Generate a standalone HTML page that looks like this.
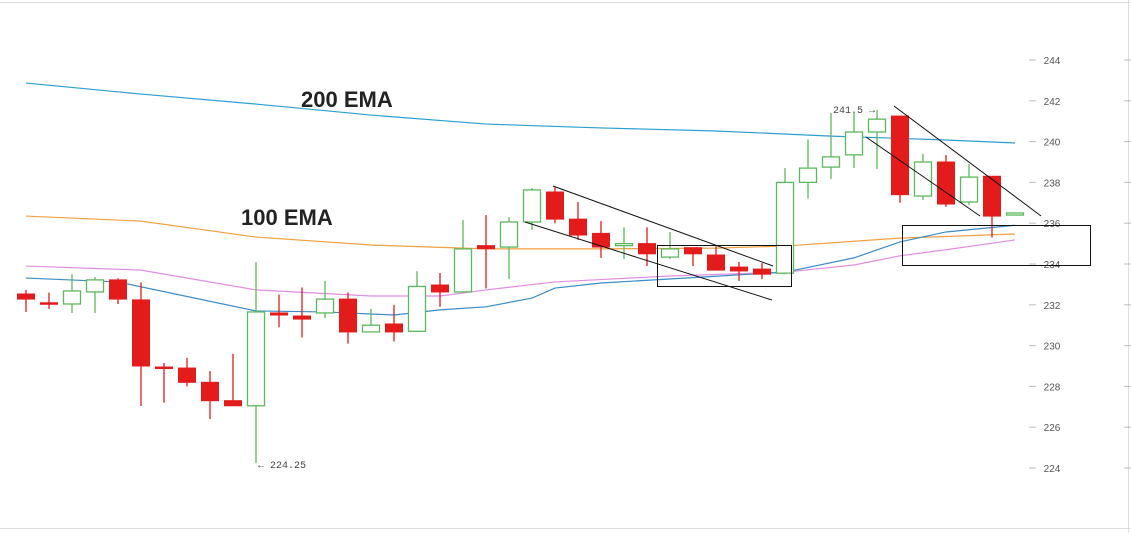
<!DOCTYPE html>
<html><head><meta charset="utf-8">
<style>
html,body{margin:0;padding:0;background:#fff;}
svg{display:block;font-family:"Liberation Sans",sans-serif;}
</style></head>
<body>
<svg id="chart" width="1131" height="533" viewBox="0 0 1131 533" xmlns="http://www.w3.org/2000/svg">
  <rect x="0" y="0" width="1131" height="533" fill="#fff"/>
  <line x1="0" y1="2.5" x2="1131" y2="2.5" stroke="#ddd"/>
  <line x1="0" y1="528.5" x2="1131" y2="528.5" stroke="#ddd"/>
  <line x1="1128.5" y1="0" x2="1128.5" y2="533" stroke="#ddd"/>
  <g id="axis"></g>
  <g id="emas"></g>
  <g id="candles"></g>
  <g fill="none" stroke="#111" stroke-width="1">
    <line x1="553" y1="186" x2="773" y2="266"/>
    <line x1="525" y1="222" x2="772" y2="300"/>
    <rect x="657.5" y="245.5" width="134" height="41"/>
    <line x1="894" y1="106" x2="1041" y2="216"/>
    <line x1="866" y1="137" x2="980" y2="216"/>
    <rect x="902.5" y="225.5" width="188" height="40"/>
  </g>
  <text x="301" y="107" font-size="22" font-weight="bold" fill="#222">200 EMA</text>
  <text x="241" y="225" font-size="22" font-weight="bold" fill="#222">100 EMA</text>
  <text x="833" y="113" font-size="10" font-family="Liberation Mono, monospace" fill="#444">241.5 →</text>
  <text x="258" y="468" font-size="10" font-family="Liberation Mono, monospace" fill="#444">← 224.25</text>
</svg>
<script>
const opens  = [232.53,232.1,232.04,232.63,233.22,232.24,228.95,228.9,228.2,227.3,227.05,231.6,231.45,231.6,232.28,230.67,231.06,230.7,232.97,232.63,234.9,234.83,236.06,237.53,236.2,235.5,234.9,235.0,234.34,234.8,234.44,233.85,233.75,233.55,238.0,238.75,239.35,240.47,241.25,237.33,239.0,237.04,238.3,236.4];
const highs  = [232.73,232.6,233.5,233.36,233.3,233.1,229.15,229.4,228.75,229.6,234.1,232.5,232.85,233.17,232.6,231.8,232.0,233.65,233.56,236.16,236.4,236.3,237.73,237.8,237.04,236.1,235.8,235.8,235.57,234.8,234.88,234.1,234.05,238.7,240.1,241.4,241.4,241.55,241.25,239.4,239.34,238.9,238.3,236.5];
const lows   = [231.65,231.8,231.6,231.6,232.04,227.04,227.2,228.0,226.4,227.05,224.25,230.9,230.4,231.35,230.1,230.67,230.2,230.7,231.9,232.63,232.8,233.26,235.67,236.0,235.18,234.3,234.25,233.9,234.25,233.9,233.7,233.17,233.26,233.5,237.2,238.17,238.7,238.66,237.0,237.14,236.8,236.9,235.3,236.4];
const closes = [232.28,232.1,232.68,233.22,232.28,229.0,228.95,228.2,227.3,227.05,231.65,231.5,231.3,232.28,230.67,231.0,230.67,232.9,232.63,234.74,234.75,236.06,237.63,236.2,235.42,234.83,235.0,234.5,234.74,234.5,233.7,233.66,233.5,238.0,238.7,239.25,240.47,241.1,237.4,239.0,236.94,238.26,236.35,236.5];
const ema200Idx = [0,5,10,15,20,25,30,35,40,43];
const ema200Val = [242.87,242.33,241.84,241.3,240.86,240.67,240.52,240.27,240.08,239.93];
const ema100Idx = [0,5,10,15,20,25,30,33,38,43];
const ema100Val = [236.35,236.1,235.32,234.93,234.74,234.74,234.78,234.88,235.27,235.47];
const emaPinkIdx = [0,5,10,15,18,20,23,28,33,36,38,40,43];
const emaPinkVal = [233.9,233.7,232.73,232.43,232.43,232.73,233.12,233.41,233.6,233.95,234.4,234.7,235.18];
const emaBlueIdx = [0,4,10,13,16,18,20,22,23,25,30,33,36,38,40,43];
const emaBlueVal = [233.31,233.12,231.7,231.65,231.5,231.75,231.9,232.33,232.82,233.07,233.4,233.6,234.3,235.08,235.57,235.9];
const yTicks = [244,242,240,238,236,234,232,230,228,226,224];

const NS = "http://www.w3.org/2000/svg";
function xPos(i){ return 26 + i*23; }
function yPos(v){ return 60 + (244 - v)*20.4; }
function mk(tag, attrs, parent){ const e=document.createElementNS(NS,tag); for(const k in attrs) e.setAttribute(k,attrs[k]); parent.appendChild(e); return e; }

const axis = document.getElementById('axis');
yTicks.forEach(t=>{
  const y = yPos(t);
  const tk = mk('line',{x1:1029,x2:1036,y1:y,y2:y,stroke:'#bbb'},axis);
  
  
  const tk2 = mk('line',{x1:1124,x2:1131,y1:y,y2:y,stroke:'#bbb'},axis);
  
  
  const tx = mk('text',{x:1052,y:y+4,'text-anchor':'middle','font-size':10,fill:'#555'},axis);
  tx.textContent = t;
  
  
});

const emas = document.getElementById('emas');
function drawLine(idx, vals, color, name){
  const pts = idx.map((i,k)=>xPos(i)+','+yPos(vals[k])).join(' ');
  const p = mk('polyline',{points:pts,fill:'none',stroke:color,'stroke-width':1.2},emas);
  
  
}
drawLine(ema200Idx, ema200Val, '#2a9fd0', 'ema-200-line');
drawLine(ema100Idx, ema100Val, '#f0a040', 'ema-100-line');
drawLine(emaPinkIdx, emaPinkVal, '#e08ee0', 'ema-50-line');
drawLine(emaBlueIdx, emaBlueVal, '#3a8cc8', 'ema-20-line');

const cg = document.getElementById('candles');
opens.forEach((o,i)=>{
  const c = closes[i], up = c > o;
  const col = up ? '#5cb85c' : '#e31b1b';
  const x = xPos(i);
  const g = mk('g',{},cg);
  
  
  mk('line',{x1:x,x2:x,y1:yPos(highs[i]),y2:yPos(lows[i]),stroke:col,'stroke-width':1.3},g);
  const top = yPos(Math.max(o,c)), bot = yPos(Math.min(o,c));
  const h = Math.max(bot-top, 1.5);
  if(up) mk('rect',{x:x-8.5,y:top,width:17,height:h,fill:'#fff',stroke:col,'stroke-width':1.3},g);
  else mk('rect',{x:x-9,y:top-0.5,width:18,height:h+1,fill:col},g);
});
</script>
</body></html>
